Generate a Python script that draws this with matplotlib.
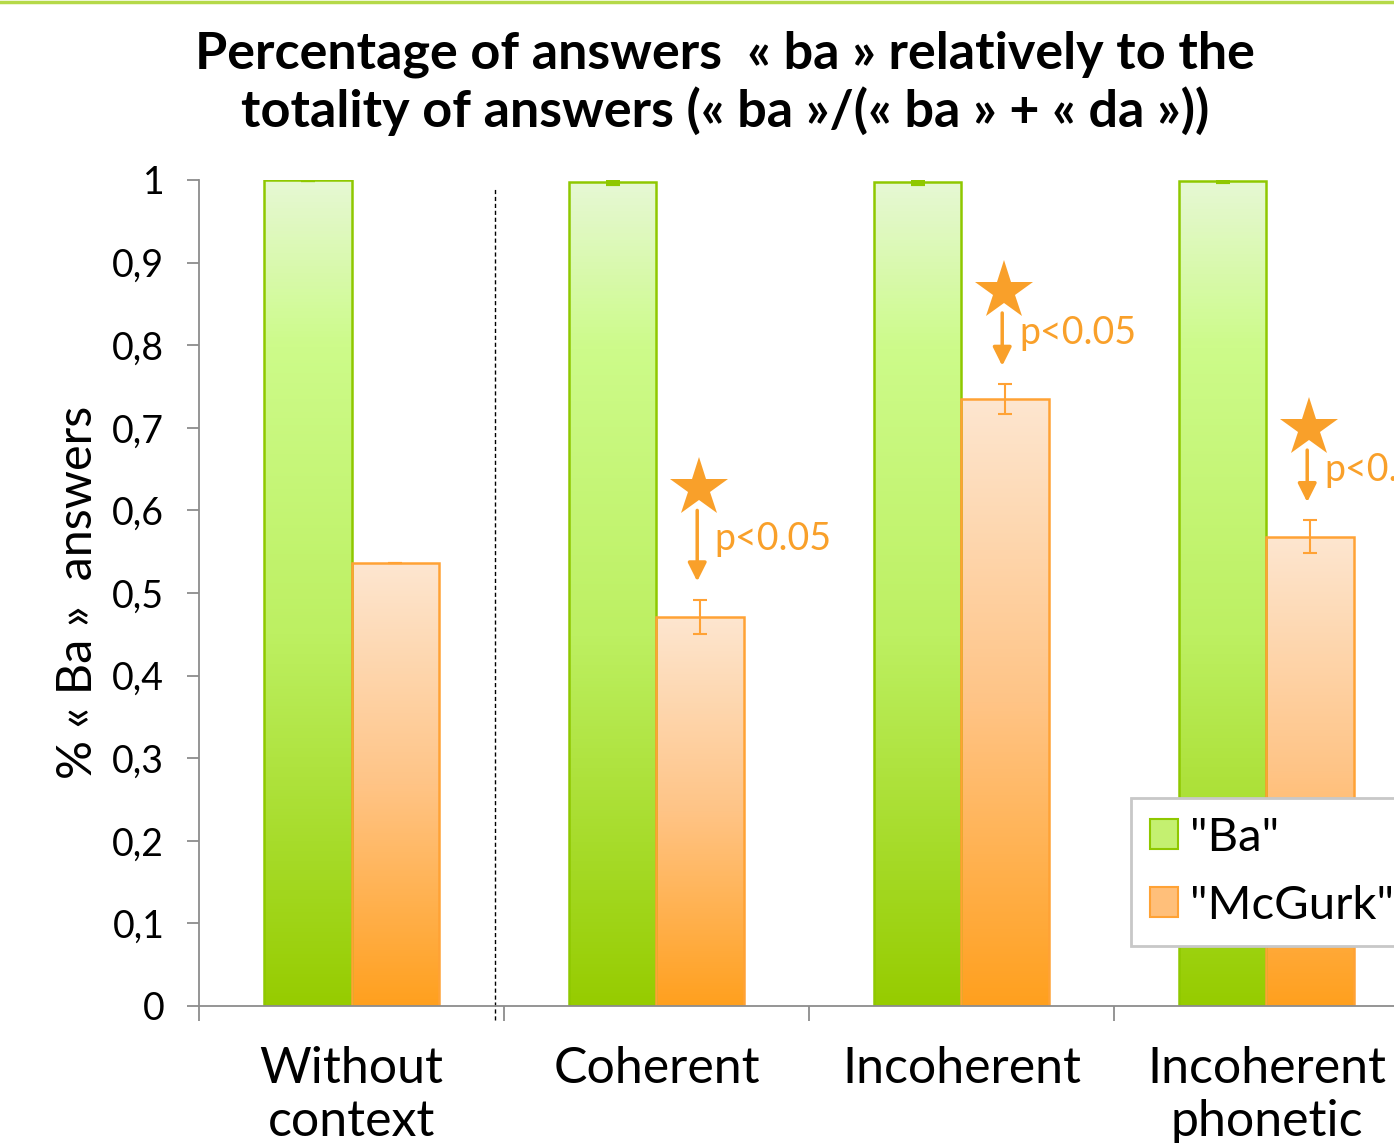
import numpy as np
import matplotlib
matplotlib.use("Agg")
import matplotlib.pyplot as plt
from matplotlib.colors import LinearSegmentedColormap
from matplotlib.lines import Line2D
from matplotlib.patches import Patch

plt.rcParams['font.family'] = ['Lato', 'DejaVu Sans']

## data
categories = ["Without\ncontext", "Coherent", "Incoherent", "Incoherent\nphonetic"]
ba = [1.0, 0.997, 0.997, 0.999]
ba_err = [0, 0.002, 0.002, 0.002]
mcgurk = [0.536, 0.471, 0.735, 0.568]
mcgurk_err = [0, 0.021, 0.018, 0.020]
significant = [False, True, True, True]
arrow_top = [None, 0.600, 0.839, 0.673]
yticks = [0, 0.1, 0.2, 0.3, 0.4, 0.5, 0.6, 0.7, 0.8, 0.9, 1.0]
ytick_labels = ["0", "0,1", "0,2", "0,3", "0,4", "0,5", "0,6", "0,7", "0,8", "0,9", "1"]

green_cmap = LinearSegmentedColormap.from_list(
    "g", [(0, "#e6f8d4"), (0.2, "#cdfb8a"), (0.55, "#bdf062"), (1, "#96cc00")])
orange_cmap = LinearSegmentedColormap.from_list(
    "o", [(0, "#fde6d0"), (0.5, "#ffc486"), (1, "#ffa01e")])
GREEN_EDGE = "#8fc800"
ORANGE_EDGE = "#ffa235"
ORANGE = "#f9a02a"

fig = plt.figure(figsize=(13.94, 11.43), dpi=100)
W, H = 1394, 1143
ax = fig.add_axes([199 / W, (H - 1006) / H, 1220 / W, 826 / H])

x = np.arange(len(categories)) + 0.5
bw = 0.287


def grad_fill(bars, cmap):
    for b in bars:
        x0, y0 = b.get_xy()
        grad = np.linspace(0, 1, 256).reshape(-1, 1)
        im = ax.imshow(grad, extent=[x0, x0 + b.get_width(), y0, y0 + b.get_height()],
                       origin='upper', aspect='auto', cmap=cmap, zorder=1)
        im.set_clip_path(b)


b1 = ax.bar(x - bw / 2, ba, bw, facecolor='none', edgecolor=GREEN_EDGE, linewidth=1.8, zorder=2)
b2 = ax.bar(x + bw / 2, mcgurk, bw, facecolor='none', edgecolor=ORANGE_EDGE, linewidth=1.8, zorder=2)
grad_fill(b1, green_cmap)
grad_fill(b2, orange_cmap)

ax.errorbar(x - bw / 2, ba, yerr=ba_err, fmt='none', ecolor=GREEN_EDGE,
            elinewidth=2, capsize=5, capthick=3, zorder=3)
ax.errorbar(x + bw / 2, mcgurk, yerr=mcgurk_err, fmt='none', ecolor=ORANGE_EDGE,
            elinewidth=1.5, capsize=5, capthick=1.5, zorder=3)

## significance markers: star, arrow, p-value
for xi, v, e, s, top in zip(x + bw / 2, mcgurk, mcgurk_err, significant, arrow_top):
    if not s:
        continue
    y_lo = v + e + 0.022
    ax.annotate("", xy=(xi - 0.01, y_lo), xytext=(xi - 0.01, top),
                arrowprops=dict(arrowstyle='-|>', color=ORANGE, lw=2.5,
                                mutation_scale=28, shrinkA=0, shrinkB=0), zorder=4)
    ax.plot(xi - 0.005, top + 0.027, marker='*', ms=44, color=ORANGE, mew=0,
            clip_on=False, zorder=4)
    ax.text(xi + 0.045, (y_lo + top) / 2 + 0.008, "p<0.05", color=ORANGE,
            fontsize=27, va='center', ha='left', zorder=4, clip_on=False)

## separator after "Without context"
ax.plot([0.97, 0.97], [-0.017, 0.99], color='black', lw=1, ls=(0, (3, 2)),
        clip_on=False, zorder=1)

ax.set_xlim(0, len(categories))
ax.set_ylim(0, 1)
ax.set_yticks(yticks)
ax.set_yticklabels(ytick_labels, fontsize=27)
ax.set_xticks(np.arange(len(categories) + 1))
ax.set_xticklabels([])
ax.tick_params(axis='y', length=9, width=1.3, color='#8c8c8c', pad=16)
ax.tick_params(axis='x', length=11, width=1.3, color='#8c8c8c')
for xi, lab in zip(x, categories):
    ax.text(xi, -0.048, lab, ha='center', va='top', fontsize=36,
            linespacing=1.2, transform=ax.transData)
for sp in ['top', 'right']:
    ax.spines[sp].set_visible(False)
for sp in ['left', 'bottom']:
    ax.spines[sp].set_color('#8c8c8c')
    ax.spines[sp].set_linewidth(1.3)

fig.text(78 / W, 1 - 592 / H, "% « Ba »  answers", rotation=90, fontsize=35,
         ha='center', va='center')

fig.text(725 / W, 1 - 31 / H,
         "Percentage of answers  « ba » relatively to the\ntotality of answers (« ba »/(« ba » + « da »))",
         ha='center', va='top', fontsize=37.5, fontweight='bold', linespacing=1.2)

## thin green rule at the very top
fig.add_artist(Line2D([0, 1], [1 - 1.5 / H, 1 - 1.5 / H], color='#b5d948', lw=2.5,
                      transform=fig.transFigure))

handles = [Patch(facecolor='#c4f070', edgecolor=GREEN_EDGE, lw=1.5),
           Patch(facecolor='#ffbf7a', edgecolor=ORANGE_EDGE, lw=1.5)]
leg = fig.legend(handles, ['"Ba"', '"McGurk"'], loc='upper left',
                 bbox_to_anchor=(1131 / W, 1 - 798 / H), borderaxespad=0,
                 fontsize=34, handlelength=0.6, handleheight=0.6, handletextpad=0.25,
                 labelspacing=0.55, borderpad=0.4, fancybox=False, framealpha=1)
leg.get_frame().set_edgecolor('#c8c8c8')
leg.get_frame().set_linewidth(2)

fig.savefig("out.png", dpi=100)
